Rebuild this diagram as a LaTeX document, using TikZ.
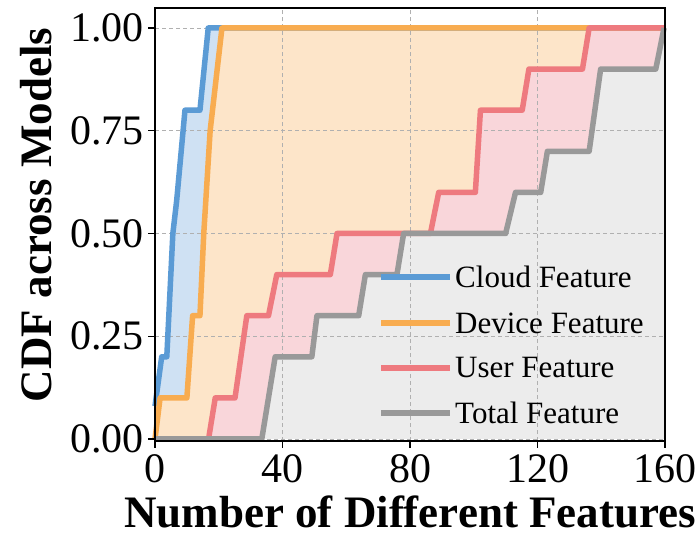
\documentclass[tikz,border=0pt]{standalone}
\usepackage{fontspec}
\setmainfont{Liberation Serif}
\begin{document}
\begin{tikzpicture}[x=1pt,y=1pt]
\definecolor{cBlue}{RGB}{91,155,213}
\definecolor{cOrange}{RGB}{248,172,80}
\definecolor{cRed}{RGB}{238,122,127}
\definecolor{cGray}{RGB}{153,153,153}
\definecolor{fBlue}{RGB}{207,225,243}
\definecolor{fOrange}{RGB}{253,229,201}
\definecolor{fRed}{RGB}{249,214,218}
\definecolor{fGray}{RGB}{236,236,236}
\definecolor{gridc}{RGB}{176,176,176}
\tikzset{
  curve/.style={line width=5.5pt, line join=round},
  gridline/.style={gridc, line width=0.9pt, dash pattern=on 4pt off 3pt},
  ticklab/.style={font=\fontsize{42}{46}\selectfont, inner sep=0pt},
  axlab/.style={font=\fontsize{45}{48}\selectfont\bfseries, inner sep=0pt},
  legtext/.style={font=\fontsize{31}{34}\selectfont, inner sep=0pt, anchor=west},
  legline/.style={line width=5.5pt}
}
\useasboundingbox (0,0) rectangle (700,540);
\fill[white] (0,0) rectangle (700,540);

% data frame: x in features, y in CDF
\begin{scope}[shift={(155pt,101pt)}, x=3.1875pt, y=411pt]
  % shaded bands between consecutive curves
  \fill[fBlue] (0,0.08) -- (2.1,0.2) -- (3.7,0.2) -- (5.6,0.5) -- (6.8,0.58) -- (9.4,0.8) -- (14.1,0.8) -- (16.7,1.0) -- (160,1.0) -- (160,0) -- (0,0) -- cycle;
  \fill[fOrange] (0,0) -- (1.6,0.1) -- (10,0.1) -- (11.8,0.3) -- (14.1,0.3) -- (15.3,0.5) -- (17.3,0.75) -- (21,1.0) -- (160,1.0) -- (160,0) -- cycle;
  \fill[fRed] (16.8,0) -- (18.9,0.1) -- (25.1,0.1) -- (28.8,0.3) -- (35.6,0.3) -- (38.2,0.4) -- (55,0.4) -- (57.1,0.5) -- (86.4,0.5) -- (89,0.6) -- (100.5,0.6) -- (102.1,0.8) -- (115.2,0.8) -- (117.3,0.9) -- (134.1,0.9) -- (136.2,1.0) -- (160,1.0) -- (160,0) -- cycle;
  \fill[fGray] (33.5,0) -- (37.7,0.2) -- (49.2,0.2) -- (50.8,0.3) -- (63.9,0.3) -- (66,0.4) -- (75.9,0.4) -- (78,0.5) -- (110,0.5) -- (113.1,0.6) -- (121,0.6) -- (123.1,0.7) -- (136.2,0.7) -- (139.8,0.9) -- (157.1,0.9) -- (159.7,1.0) -- (160,1.0) -- (160,0) -- cycle;

  % grid
  \foreach \gx in {40,80,120} \draw[gridline] (\gx,-0.005) -- (\gx,1.0487);
  \foreach \gy in {0,0.25,0.5,0.75,1} \draw[gridline] (0,\gy) -- (160,\gy);

  % CDF curves
  \draw[curve, cBlue] (0,0.08) -- (2.1,0.2) -- (3.7,0.2) -- (5.6,0.5) -- (6.8,0.58) -- (9.4,0.8) -- (14.1,0.8) -- (16.7,1.0) -- (160,1.0);
  \draw[curve, cOrange] (0,0) -- (1.6,0.1) -- (10,0.1) -- (11.8,0.3) -- (14.1,0.3) -- (15.3,0.5) -- (17.3,0.75) -- (21,1.0) -- (160,1.0);
  \draw[curve, cRed] (0,0) -- (16.8,0) -- (18.9,0.1) -- (25.1,0.1) -- (28.8,0.3) -- (35.6,0.3) -- (38.2,0.4) -- (55,0.4) -- (57.1,0.5) -- (86.4,0.5) -- (89,0.6) -- (100.5,0.6) -- (102.1,0.8) -- (115.2,0.8) -- (117.3,0.9) -- (134.1,0.9) -- (136.2,1.0) -- (160,1.0);
  \draw[curve, cGray] (0,0) -- (33.5,0) -- (37.7,0.2) -- (49.2,0.2) -- (50.8,0.3) -- (63.9,0.3) -- (66,0.4) -- (75.9,0.4) -- (78,0.5) -- (110,0.5) -- (113.1,0.6) -- (121,0.6) -- (123.1,0.7) -- (136.2,0.7) -- (139.8,0.9) -- (157.1,0.9) -- (159.7,1.0);

  % frame
  \draw[line width=1.4pt] (0,-0.005) rectangle (160,1.0487);

  % ticks and tick labels
  \foreach \gx/\nm in {0/xa,40/xb,80/xc,120/xd,160/xe} {
    \draw[line width=1.4pt] (\gx,-0.005) -- ++(0,-7pt);
    \node[ticklab, anchor=north] (\nm) at ([yshift=-15pt]\gx,0) {\gx};
  }
  \foreach \gy/\lab/\nm in {0/0.00/ya,0.25/0.25/yb,0.5/0.50/yc,0.75/0.75/yd,1/1.00/ye} {
    \draw[line width=1.4pt] (0,\gy) -- ++(-7pt,0);
    \node[ticklab, anchor=east] (\nm) at ([xshift=-11pt]0,\gy) {\lab};
  }
\end{scope}

% axis titles
\node[axlab] (xlabel) at (410,28) {Number of Different Features};
\node[axlab, rotate=90] (ylabel) at (36,325) {CDF across Models};

% legend
\foreach \ly/\col/\txt/\nm in {263/cBlue/Cloud Feature/lgA, 217/cOrange/Device Feature/lgB, 172/cRed/User Feature/lgC, 127/cGray/Total Feature/lgD} {
  \coordinate (\nm s) at (381,\ly);
  \node[legtext] (\nm) at (455,\ly) {\txt};
  \draw[legline, \col] (\nm s) -- ([xshift=-5pt]\nm.west);
}
\end{tikzpicture}
\end{document}
